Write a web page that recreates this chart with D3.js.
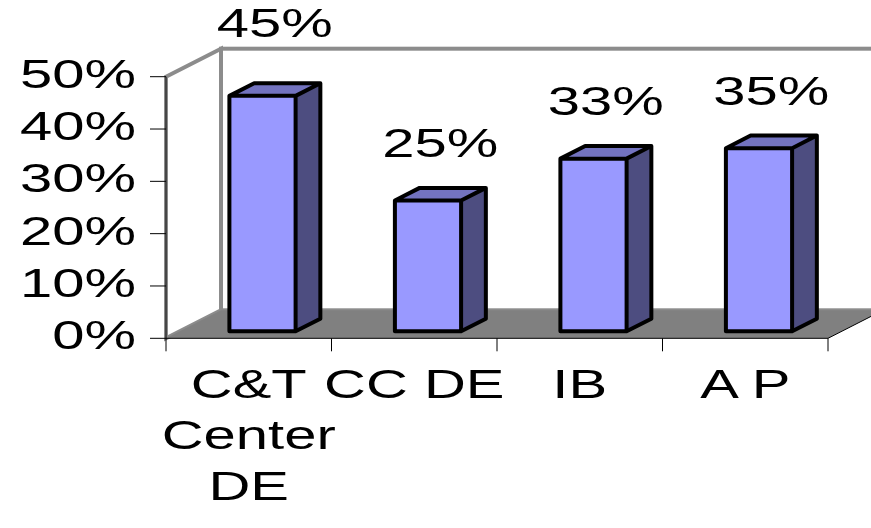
<!DOCTYPE html>
<html>
<head>
<meta charset="utf-8">
<script src="https://cdn.jsdelivr.net/npm/d3@7"></script>
<style>
  body { margin: 0; background: #fff; }
  text { font-family: Arial, "Liberation Sans", sans-serif; font-size: 40px; fill: #000; }
</style>
</head>
<body>
<div id="chart"></div>
<script>
// chart data
let categories = ["C&T Center DE", "CC DE", "IB", "A P"];
let values = [45, 25, 33, 35];
let yTicks = [0, 10, 20, 30, 40, 50];

let svgWidth = 871;
let svgHeight = 528;

// front plane of the 3d box
let plotLeft = 166, plotRight = 828, plotBottom = 338.3, plotTop = 76.7;
// depth offset of the back wall
let depthX = 55, depthY = -28;
let stretch = 1.45; // text is drawn wide in the original

let svg = d3.select("#chart")
  .append("svg")
  .attr("width", svgWidth)
  .attr("height", svgHeight);

let xScale = d3.scaleBand()
  .domain(categories)
  .range([plotLeft, plotRight])
  .paddingInner(0.6)
  .paddingOuter(0.3);

let yScale = d3.scaleLinear()
  .domain([0, 50])
  .range([plotBottom, plotTop]);

let wallGray = "#8c8c8c";

// back wall
svg.append("rect")
  .attr("x", plotLeft + depthX)
  .attr("y", plotTop + depthY)
  .attr("width", 700)
  .attr("height", plotBottom - plotTop)
  .attr("fill", "#fff")
  .attr("stroke", wallGray)
  .attr("stroke-width", 4);

// side wall
svg.append("polygon")
  .attr("points", [
    [plotLeft, plotTop], [plotLeft + depthX, plotTop + depthY],
    [plotLeft + depthX, plotBottom + depthY], [plotLeft, plotBottom]
  ].join(" "))
  .attr("fill", "#fff")
  .attr("stroke", wallGray)
  .attr("stroke-width", 4);

// floor
svg.append("polygon")
  .attr("points", [
    [plotLeft, plotBottom], [plotLeft + depthX, plotBottom + depthY],
    [plotRight + depthX, plotBottom + depthY], [plotRight, plotBottom]
  ].join(" "))
  .attr("fill", "#808080");

svg.append("line")
  .attr("x1", plotRight).attr("y1", plotBottom)
  .attr("x2", plotRight + depthX).attr("y2", plotBottom + depthY)
  .attr("stroke", "#000").attr("stroke-width", 1);

// axes
svg.append("line")
  .attr("x1", plotLeft).attr("y1", plotBottom)
  .attr("x2", plotRight).attr("y2", plotBottom)
  .attr("stroke", "#000");
svg.append("line")
  .attr("x1", plotLeft).attr("y1", plotTop)
  .attr("x2", plotLeft).attr("y2", plotBottom)
  .attr("stroke", "#000");

// y ticks + labels
let yAxis = svg.append("g");
yAxis.selectAll("line")
  .data(yTicks)
  .enter()
  .append("line")
  .attr("x1", plotLeft - 16).attr("x2", plotLeft)
  .attr("y1", d => yScale(d)).attr("y2", d => yScale(d))
  .attr("stroke", "#000");

yAxis.selectAll("text")
  .data(yTicks)
  .enter()
  .append("text")
  .attr("text-anchor", "end")
  .attr("transform", d => `translate(${plotLeft - 30}, ${yScale(d) + 11}) scale(${stretch},1)`)
  .text(d => d + "%");

// x ticks at category edges
let step = xScale.step();
let xEdges = d3.range(categories.length + 1).map(i => plotLeft + i * step);
svg.append("g").selectAll("line")
  .data(xEdges)
  .enter()
  .append("line")
  .attr("x1", d => d).attr("x2", d => d)
  .attr("y1", plotBottom).attr("y2", plotBottom + 13)
  .attr("stroke", "#000");

// x labels, wrapped
let maxW = 190;
let xLabels = svg.append("g").selectAll("text")
  .data(categories)
  .enter()
  .append("text")
  .attr("text-anchor", "middle")
  .attr("transform", d => `translate(${xScale(d) + xScale.bandwidth() / 2}, ${plotBottom + 60}) scale(${stretch},1)`);

xLabels.each(function(d) {
  let t = d3.select(this);
  let words = d.split(" ");
  let line = [];
  let lineNo = 0;
  let tspan = t.append("tspan").attr("x", 0).attr("y", 0);
  words.forEach(w => {
    line.push(w);
    tspan.text(line.join(" "));
    if (tspan.node().getComputedTextLength() * stretch > maxW && line.length > 1) {
      line.pop();
      tspan.text(line.join(" "));
      line = [w];
      lineNo++;
      tspan = t.append("tspan").attr("x", 0).attr("y", lineNo * 51).text(w);
    }
  });
});

// bars
let barOff = 0.25, barDepth = 0.45;
let bw = xScale.bandwidth();
let bdx = depthX * barDepth, bdy = depthY * barDepth;

let bars = svg.append("g").selectAll("g")
  .data(categories.map((c, i) => ({ cat: c, val: values[i] })))
  .enter()
  .append("g")
  .attr("transform", `translate(${depthX * barOff}, ${depthY * barOff})`);

bars.append("rect")
  .attr("x", d => xScale(d.cat))
  .attr("y", d => yScale(d.val))
  .attr("width", bw)
  .attr("height", d => plotBottom - yScale(d.val))
  .attr("fill", "#9999ff");

// side face
bars.append("polygon")
  .attr("points", d => {
    let x1 = xScale(d.cat) + bw, y1 = yScale(d.val);
    return [[x1, y1], [x1 + bdx, y1 + bdy], [x1 + bdx, plotBottom + bdy], [x1, plotBottom]].join(" ");
  })
  .attr("fill", "#4d4d80");

// top face
bars.append("polygon")
  .attr("points", d => {
    let x0 = xScale(d.cat), y0 = yScale(d.val);
    return [[x0, y0], [x0 + bdx, y0 + bdy], [x0 + bw + bdx, y0 + bdy], [x0 + bw, y0]].join(" ");
  })
  .attr("fill", "#7373c0");

// outline
bars.append("path")
  .attr("d", d => {
    let x0 = xScale(d.cat), y0 = yScale(d.val), x1 = x0 + bw;
    return `M${x0},${plotBottom}L${x0},${y0}L${x0 + bdx},${y0 + bdy}L${x1 + bdx},${y0 + bdy}` +
      `L${x1 + bdx},${plotBottom + bdy}L${x1},${plotBottom}Z` +
      `M${x0},${y0}L${x1},${y0}L${x1 + bdx},${y0 + bdy}M${x1},${y0}L${x1},${plotBottom}`;
  })
  .attr("fill", "none")
  .attr("stroke", "#000")
  .attr("stroke-width", 4)
  .attr("stroke-linejoin", "round");

// value labels
let wallTop = plotTop + depthY;
svg.append("g").selectAll("text")
  .data(categories.map((c, i) => ({ cat: c, val: values[i] })))
  .enter()
  .append("text")
  .attr("text-anchor", "middle")
  .attr("transform", d => {
    let cx = xScale(d.cat) + depthX * barOff + (bw + bdx) / 2;
    let base = yScale(d.val) + depthY * (barOff + barDepth) - 31;
    // lift above the wall top when it would cross it
    if (base - 29 < wallTop && base > wallTop) base = wallTop - 12;
    return `translate(${cx}, ${base}) scale(${stretch},1)`;
  })
  .text(d => d.val + "%");
</script>
</body>
</html>
